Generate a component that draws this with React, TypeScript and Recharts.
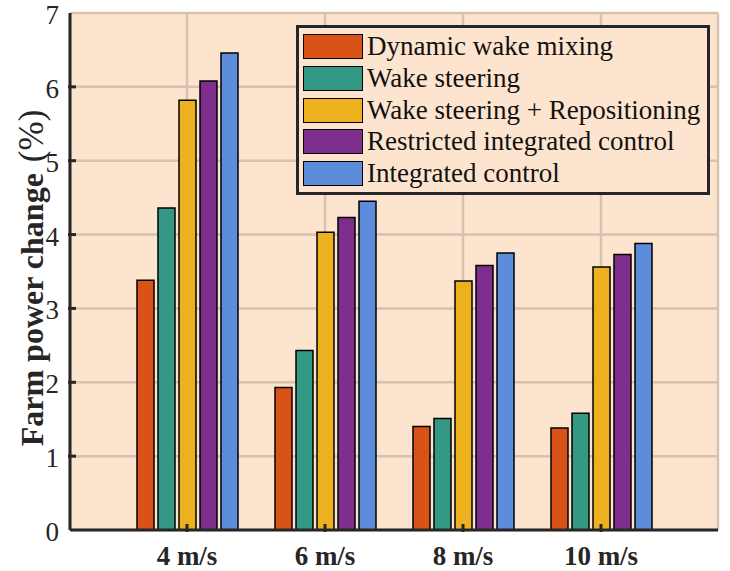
import { Bar, BarChart, CartesianGrid, XAxis, YAxis } from 'recharts';

const speeds = ['4 m/s', '6 m/s', '8 m/s', '10 m/s'];
const dynamicWakeMixing = [3.38, 1.93, 1.4, 1.38];
const wakeSteering = [4.36, 2.43, 1.51, 1.58];
const wakeSteeringRepositioning = [5.82, 4.03, 3.37, 3.56];
const restrictedIntegrated = [6.08, 4.23, 3.58, 3.73];
const integratedControl = [6.46, 4.45, 3.75, 3.88];
const yTicks = [0, 1, 2, 3, 4, 5, 6, 7];

const series = [
  { key: 'dwm', name: 'Dynamic wake mixing', color: '#D95319', values: dynamicWakeMixing },
  { key: 'ws', name: 'Wake steering', color: '#339985', values: wakeSteering },
  { key: 'wsr', name: 'Wake steering + Repositioning', color: '#EDB120', values: wakeSteeringRepositioning },
  { key: 'ric', name: 'Restricted integrated control', color: '#7E2F8E', values: restrictedIntegrated },
  { key: 'ic', name: 'Integrated control', color: '#5B8DDB', values: integratedControl },
];

const data = speeds.map((speed, i) => {
  const row: Record<string, string | number> = { speed };
  series.forEach((s) => {
    row[s.key] = s.values[i];
  });
  return row;
});

const ink = '#262626';
const font = '"Liberation Serif", "Times New Roman", serif';

const BottomTick = ({ x, y, payload }: any) => (
  <g>
    <line x1={x} y1={y} x2={x} y2={y - 8} stroke={ink} strokeWidth={3} />
    <text x={x} y={y + 33} textAnchor="middle" fontFamily={font} fontWeight="bold" fontSize={27} fill={ink}>
      {payload.value}
    </text>
  </g>
);

const TopTick = ({ x, y }: any) => (
  <line x1={x} y1={y} x2={x} y2={y + 8} stroke={ink} strokeWidth={3} />
);

const LeftTick = ({ x, y, payload }: any) => (
  <g>
    {payload.value > 0 && payload.value < 7 && (
      <line x1={x} y1={y} x2={x + 8} y2={y} stroke={ink} strokeWidth={3} />
    )}
    <text x={x - 9} y={y + 11} textAnchor="end" fontFamily={font} fontSize={27} fill={ink}>
      {payload.value}
    </text>
  </g>
);

const RightTick = ({ x, y, payload }: any) =>
  payload.value > 0 && payload.value < 7 ? (
    <line x1={x} y1={y} x2={x - 8} y2={y} stroke={ink} strokeWidth={3} />
  ) : null;

const LegendBox = () => (
  <div
    style={{
      position: 'absolute',
      left: 296,
      top: 25,
      width: 414,
      border: `3px solid ${ink}`,
      background: '#FDE4CE',
      padding: '3px 4px 3px 4px',
      fontFamily: font,
      fontSize: 27,
      color: '#111',
      boxSizing: 'border-box',
      whiteSpace: 'nowrap',
    }}
  >
    {series.map((s) => (
      <div key={s.key} style={{ display: 'flex', alignItems: 'center', height: 31.7 }}>
        <span
          style={{
            display: 'inline-block',
            width: 58,
            height: 23,
            background: s.color,
            border: '1px solid #000',
            marginRight: 4,
            flexShrink: 0,
          }}
        />
        <span style={{ lineHeight: '27px' }}>{s.name}</span>
      </div>
    ))}
  </div>
);

export default function App() {
  return (
    <div style={{ position: 'absolute', left: 0, top: 0, width: 730, height: 571, background: '#fff' }}>
      <BarChart
        width={730}
        height={571}
        data={data}
        margin={{ top: 13, right: 12, bottom: 0, left: 0 }}
        barSize={17}
        barGap={4}
      >
        <CartesianGrid fill="#FDE4CE" stroke="#D6C2AE" strokeWidth={2.5} />
        <XAxis
          dataKey="speed"
          height={41}
          padding={{ left: 48, right: 48 }}
          axisLine={{ stroke: ink, strokeWidth: 3 }}
          tickLine={false}
          tickSize={0}
          tick={<BottomTick />}
          interval={0}
        />
        <XAxis
          dataKey="speed"
          xAxisId="top"
          orientation="top"
          height={0}
          padding={{ left: 48, right: 48 }}
          axisLine={{ stroke: ink, strokeWidth: 3 }}
          tickLine={false}
          tickSize={0}
          tick={<TopTick />}
          interval={0}
        />
        <YAxis
          width={70}
          domain={[0, 7]}
          ticks={yTicks}
          interval={0}
          axisLine={{ stroke: ink, strokeWidth: 3 }}
          tickLine={false}
          tickSize={0}
          tick={<LeftTick />}
          label={{
            value: 'Farm power change (%)',
            position: 'insideLeft',
            content: () => {
              const cx = 43;
              const cy = 278;
              return (
                <text
                  x={cx}
                  y={cy}
                  transform={`rotate(-90, ${cx}, ${cy})`}
                  textAnchor="middle"
                  fontFamily={font}
                  fill={ink}
                >
                  <tspan fontWeight="bold" fontSize={32}>
                    Farm power change
                  </tspan>
                  <tspan dx={11} fontSize={35}>
                    (%)
                  </tspan>
                </text>
              );
            },
          }}
        />
        <YAxis
          yAxisId="right"
          orientation="right"
          width={0}
          domain={[0, 7]}
          ticks={yTicks}
          interval={0}
          axisLine={{ stroke: ink, strokeWidth: 3 }}
          tickLine={false}
          tickSize={0}
          tick={<RightTick />}
        />
        {series.map((s) => (
          <Bar
            key={s.key}
            dataKey={s.key}
            name={s.name}
            fill={s.color}
            stroke="#000"
            strokeWidth={1.5}
            isAnimationActive={false}
          />
        ))}
      </BarChart>
      <LegendBox />
    </div>
  );
}
